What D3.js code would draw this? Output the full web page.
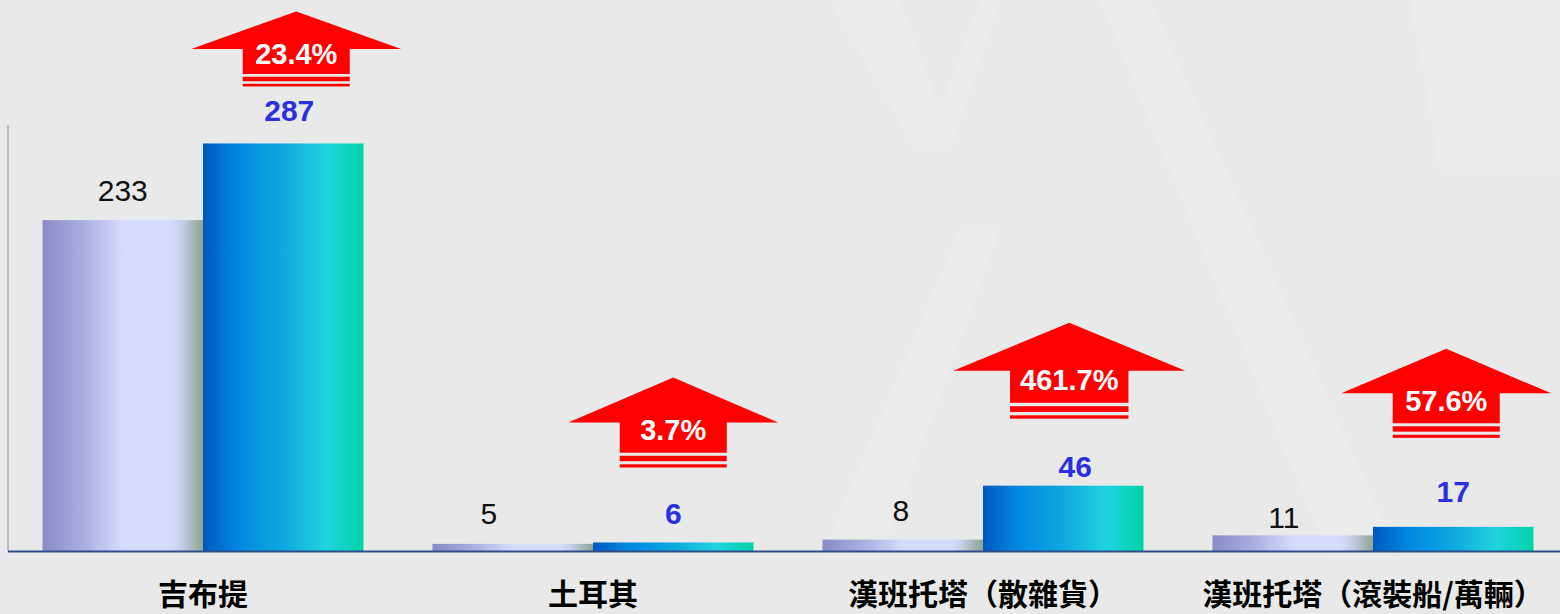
<!DOCTYPE html>
<html>
<head>
<meta charset="utf-8">
<script src="https://cdn.jsdelivr.net/npm/d3@7"></script>
<style>
  html, body { margin: 0; padding: 0; background: #e9e9e9; }
  svg { display: block; }
</style>
</head>
<body>
<div id="chart"></div>
<script>
// data
const categories = ["吉布提", "土耳其", "漢班托塔（散雜貨）", "漢班托塔（滾裝船/萬輛）"];
const prevValues = [233, 5, 8, 11];
const currValues = [287, 6, 46, 17];
const growthPct = [23.4, 3.7, 461.7, 57.6];

// label / arrow placement (layout only)
const prevLabelGap = [19, 20, 19, 7];
const prevLabelDx = [0, -24, -2, -9];
const currLabelGap = [22, 18, 9, 25];
const currLabelDx = [6, 0, 12, 0];
const arrowHeight = [75, 90, 96, 89];
const arrowLift = [57, 75, 67, 89];
const arrowShift = [13, 0, 6, -7];

const W = 1560, H = 614;
const baseY = 551, topY = 125, leftX = 8;

const svg = d3.select("#chart").append("svg")
  .attr("width", W).attr("height", H);

// background with faint watermark shapes
svg.append("rect").attr("width", W).attr("height", H).attr("fill", "#e9e9e9");
const wm = svg.append("g").attr("fill", "#f0f0f0").attr("opacity", 0.35);
wm.append("polygon").attr("points", "830,0 900,0 940,110 980,0 1000,0 950,150 915,150");
wm.append("polygon").attr("points", "1100,0 1150,0 1400,560 1330,560");
wm.append("polygon").attr("points", "960,230 1000,230 880,560 820,560");
wm.append("polygon").attr("points", "1410,0 1560,0 1560,170 1440,170");

const defs = svg.append("defs");
const g1 = defs.append("linearGradient").attr("id", "gPrev")
  .attr("x1", "0%").attr("x2", "100%").attr("y1", "0%").attr("y2", "0%");
[["0%", "#888bc6"], ["25%", "#a8aedf"], ["50%", "#d4dcfc"], ["80%", "#d4dcfc"],
 ["87%", "#c4cee8"], ["93%", "#aab8c0"], ["100%", "#8fa68e"]]
  .forEach(s => g1.append("stop").attr("offset", s[0]).attr("stop-color", s[1]));
const g2 = defs.append("linearGradient").attr("id", "gCurr")
  .attr("x1", "0%").attr("x2", "100%").attr("y1", "0%").attr("y2", "0%");
[["0%", "#0058bf"], ["22%", "#0088e2"], ["50%", "#0fa8de"], ["77%", "#20d4e0"], ["100%", "#00d3a6"]]
  .forEach(s => g2.append("stop").attr("offset", s[0]).attr("stop-color", s[1]));

const x0 = d3.scaleBand().domain(categories).range([leftX, W + 8])
  .paddingInner(0.177).paddingOuter(0.0885);
const x1 = d3.scaleBand().domain(["prev", "curr"]).range([0, x0.bandwidth()]);
const y = d3.scaleLinear().domain([0, 300]).range([baseY, topY]);

// y axis line
svg.append("line")
  .attr("x1", leftX).attr("x2", leftX)
  .attr("y1", y(300)).attr("y2", y(0))
  .attr("stroke", "#9a9a9a").attr("stroke-width", 1.2);

const groups = svg.selectAll("g.grp")
  .data(categories)
  .join("g")
  .attr("class", "grp")
  .attr("transform", d => `translate(${x0(d)},0)`);

groups.append("rect")
  .attr("x", x1("prev")).attr("width", x1.bandwidth())
  .attr("y", (d, i) => y(prevValues[i]))
  .attr("height", (d, i) => y(0) - y(prevValues[i]))
  .attr("fill", "url(#gPrev)");

groups.append("rect")
  .attr("x", x1("curr")).attr("width", x1.bandwidth())
  .attr("y", (d, i) => y(currValues[i]))
  .attr("height", (d, i) => y(0) - y(currValues[i]))
  .attr("fill", "url(#gCurr)");

groups.append("text")
  .attr("x", (d, i) => x1("prev") + x1.bandwidth() / 2 + prevLabelDx[i])
  .attr("y", (d, i) => y(prevValues[i]) - prevLabelGap[i])
  .attr("text-anchor", "middle")
  .style("font-family", "'Liberation Sans', Arial, sans-serif")
  .style("font-size", "30px")
  .attr("fill", "#111")
  .text((d, i) => prevValues[i]);

groups.append("text")
  .attr("x", (d, i) => x1("curr") + x1.bandwidth() / 2 + currLabelDx[i])
  .attr("y", (d, i) => y(currValues[i]) - currLabelGap[i])
  .attr("text-anchor", "middle")
  .style("font-family", "'Liberation Sans', Arial, sans-serif")
  .style("font-size", "30px")
  .style("font-weight", "bold")
  .attr("fill", "#2b2fe0")
  .text((d, i) => currValues[i]);

// baseline
svg.append("line")
  .attr("x1", leftX).attr("x2", W)
  .attr("y1", y(0) + 0.5).attr("y2", y(0) + 0.5)
  .attr("stroke", "#2f4d8a").attr("stroke-width", 2);

// category labels
svg.append("g").selectAll("text")
  .data(categories)
  .join("text")
  .attr("x", d => x0(d) + x0.bandwidth() / 2)
  .attr("y", 605)
  .attr("text-anchor", "middle")
  .style("font-family", "'Noto Sans CJK TC', 'Noto Sans CJK SC', sans-serif")
  .style("font-size", "30px")
  .style("font-weight", "bold")
  .attr("fill", "#000")
  .text(d => d);

// growth arrows
categories.forEach((c, i) => {
  const cx = x0(c) + x1("curr") + x1.bandwidth() / 2 + arrowShift[i];
  const yb = y(currValues[i]) - arrowLift[i];
  const h = arrowHeight[i];
  const ag = svg.append("g");
  const label = ag.append("text")
    .attr("x", cx).attr("y", yb - 0.3 * h)
    .attr("text-anchor", "middle")
    .style("font-family", "'Liberation Sans', Arial, sans-serif")
    .style("font-size", "29px")
    .style("font-weight", "bold")
    .attr("fill", "#fff")
    .text(growthPct[i].toFixed(1) + "%");
  const tw = label.node().getComputedTextLength();
  const sw = Math.max(107, tw + 20);
  const aw = sw / 0.51;
  const pts = [
    [cx - aw / 2, yb - 0.5 * h],
    [cx, yb - h],
    [cx + aw / 2, yb - 0.5 * h],
    [cx + sw / 2, yb - 0.5 * h],
    [cx + sw / 2, yb - 0.165 * h],
    [cx - sw / 2, yb - 0.165 * h],
    [cx - sw / 2, yb - 0.5 * h]
  ];
  ag.insert("polygon", "text")
    .attr("points", pts.map(p => p.join(",")).join(" "))
    .attr("fill", "#ff0000");
  ag.insert("rect", "text")
    .attr("x", cx - sw / 2).attr("width", sw)
    .attr("y", yb - 0.13 * h).attr("height", 0.06 * h)
    .attr("fill", "#ff0000");
  ag.insert("rect", "text")
    .attr("x", cx - sw / 2).attr("width", sw)
    .attr("y", yb - 0.035 * h).attr("height", 0.035 * h)
    .attr("fill", "#ff0000");
});
</script>
</body>
</html>
